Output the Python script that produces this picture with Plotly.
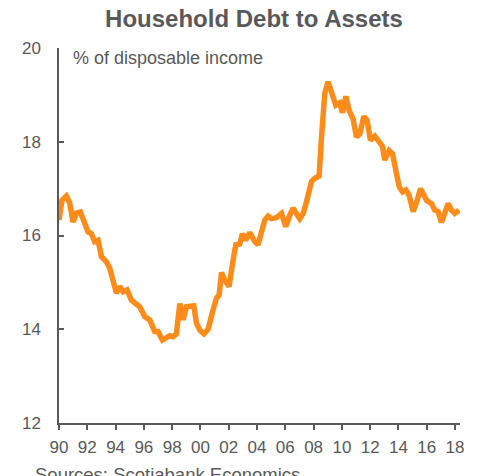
import plotly.graph_objects as go

# Household debt ratio, % of disposable income (decimal year, value)
years = [
    1990.00, 1990.21, 1990.52, 1990.76, 1990.99, 1991.23, 1991.51, 1991.70,
    1992.05, 1992.29, 1992.52, 1992.76, 1993.00, 1993.35, 1993.59, 1994.06,
    1994.29, 1994.53, 1994.81, 1995.12, 1995.47, 1995.71, 1996.06, 1996.41,
    1996.77, 1997.00, 1997.31, 1997.60, 1997.83, 1998.06, 1998.30, 1998.54,
    1998.77, 1999.01, 1999.24, 1999.53, 1999.72, 1999.95, 2000.25, 2000.54,
    2000.89, 2001.13, 2001.32, 2001.49, 2001.72, 2002.02, 2002.31, 2002.50,
    2002.78, 2002.97, 2003.20, 2003.49, 2003.84, 2004.07, 2004.55, 2004.78,
    2005.02, 2005.37, 2005.73, 2006.03, 2006.31, 2006.55, 2007.02, 2007.26,
    2007.50, 2007.73, 2007.85, 2008.09, 2008.39, 2008.56, 2008.79, 2009.02,
    2009.26, 2009.57, 2009.85, 2010.04, 2010.28, 2010.51, 2010.79, 2011.03,
    2011.27, 2011.55, 2011.78, 2012.02, 2012.33, 2012.63, 2012.87, 2013.03,
    2013.34, 2013.58, 2014.05, 2014.29, 2014.52, 2014.75, 2015.04, 2015.32,
    2015.56, 2015.98, 2016.34, 2016.57, 2016.80, 2017.04, 2017.28, 2017.51,
    2017.75, 2017.98, 2018.29,
]
debt_ratio = [
    16.33, 16.75, 16.84, 16.69, 16.29, 16.48, 16.50, 16.33,
    16.08, 16.04, 15.87, 15.90, 15.55, 15.44, 15.30, 14.77,
    14.91, 14.80, 14.84, 14.62, 14.55, 14.48, 14.27, 14.20,
    13.95, 13.95, 13.77, 13.84, 13.86, 13.84, 13.90, 14.55,
    14.20, 14.48, 14.48, 14.50, 14.13, 13.98, 13.90, 14.00,
    14.41, 14.66, 14.73, 15.21, 15.05, 14.91, 15.48, 15.80,
    15.82, 16.04, 15.90, 16.06, 15.87, 15.80, 16.33, 16.41,
    16.36, 16.38, 16.47, 16.19, 16.43, 16.58, 16.36, 16.47,
    16.72, 16.97, 17.15, 17.22, 17.27, 18.10, 19.03, 19.28,
    19.03, 18.78, 18.83, 18.62, 18.97, 18.67, 18.49, 18.10,
    18.17, 18.54, 18.46, 18.03, 18.12, 17.98, 17.90, 17.61,
    17.81, 17.74, 17.04, 16.93, 16.97, 16.86, 16.51, 16.75,
    17.00, 16.75, 16.68, 16.54, 16.51, 16.28, 16.47, 16.68,
    16.54, 16.47, 16.54,
]

x_tickvals = list(range(1990, 2019, 2))
x_ticktext = [f"{y % 100:02d}" for y in x_tickvals]
y_tickvals = [12, 14, 16, 18, 20]

GREY = "#595959"
FONT = "Liberation Sans, Arial, sans-serif"

fig = go.Figure(
    go.Scatter(
        x=years,
        y=debt_ratio,
        mode="lines",
        line=dict(color="#FF8C1A", width=5.5),
        hoverinfo="x+y",
    )
)

fig.update_layout(
    width=482,
    height=476,
    margin=dict(l=59, r=22, t=48, b=53),
    paper_bgcolor="white",
    plot_bgcolor="white",
    showlegend=False,
    font=dict(family=FONT, size=17, color=GREY),
    title=dict(
        text="<b>Household Debt to Assets</b>",
        x=0.527,
        xanchor="center",
        y=1 - 19 / 476,
        yanchor="middle",
        font=dict(family=FONT, size=24, color=GREY),
    ),
    xaxis=dict(
        range=[1990, 2018.35],
        tickvals=x_tickvals,
        ticktext=x_ticktext,
        ticks="outside",
        ticklen=5,
        tickwidth=1.5,
        tickcolor=GREY,
        showline=True,
        linecolor=GREY,
        linewidth=1.5,
        showgrid=False,
        zeroline=False,
        ticklabelstandoff=3,
        tickfont=dict(size=17, color=GREY),
    ),
    yaxis=dict(
        range=[12, 20],
        tickvals=y_tickvals,
        ticks="inside",
        ticklen=5,
        tickwidth=1.5,
        tickcolor=GREY,
        showline=True,
        linecolor=GREY,
        linewidth=1.5,
        showgrid=False,
        zeroline=False,
        ticklabelstandoff=13,
        tickfont=dict(size=17, color=GREY),
    ),
    annotations=[
        dict(
            text="% of disposable income",
            xref="paper", yref="paper",
            x=0.03, y=1.0,
            xanchor="left", yanchor="top",
            yshift=2,
            showarrow=False,
            font=dict(family=FONT, size=18, color=GREY),
        ),
        dict(
            text="Sources: Scotiabank Economics",
            xref="paper", yref="paper",
            x=-0.065, y=-0.105,
            xanchor="left", yanchor="top",
            showarrow=False,
            font=dict(family=FONT, size=18.5, color=GREY),
        ),
    ],
)

fig.write_html("out.html")
